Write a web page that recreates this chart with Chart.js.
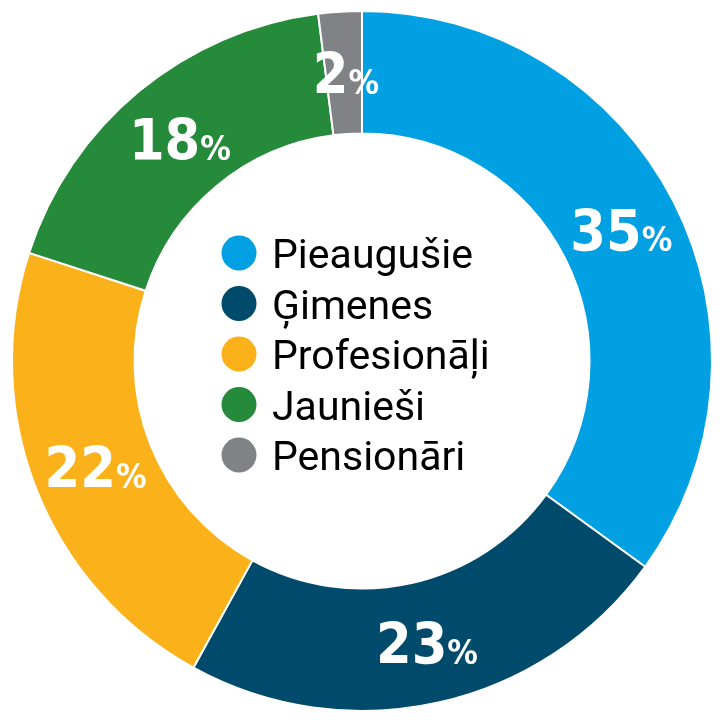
<!DOCTYPE html>
<html>
<head>
<meta charset="utf-8">
<script src="https://cdn.jsdelivr.net/npm/chart.js@4.4.1/dist/chart.umd.min.js"></script>
<style>
  html, body { margin: 0; padding: 0; background: #fff; }
  #wrap { width: 720px; height: 720px; }
</style>
</head>
<body>
<div id="wrap"><canvas id="grafiks" width="720" height="720"></canvas></div>
<script>
const kategorijas = ['Pieaugušie', 'Ģimenes', 'Profesionāļi', 'Jaunieši', 'Pensionāri'];
const vertibas = [35, 23, 22, 18, 2];
const krasas = ['#00a0e3', '#004b6b', '#fbb11a', '#258a3a', '#808285'];

// skaitļi segmentu vidū: lieli cipari + mazāka % zīme
const etiketes = {
    id: 'etiketes',
    afterDatasetsDraw(chart) {
        const ctx = chart.ctx;
        const meta = chart.getDatasetMeta(0);
        ctx.save();
        ctx.fillStyle = '#fff';
        ctx.textBaseline = 'alphabetic';
        meta.data.forEach((arc, i) => {
            const p = arc.getProps(['x', 'y', 'startAngle', 'endAngle', 'innerRadius', 'outerRadius']);
            const a = (p.startAngle + p.endAngle) / 2;
            const r = (p.innerRadius + p.outerRadius) / 2;
            const cx = p.x + Math.cos(a) * r;
            const cy = p.y + Math.sin(a) * r;
            const num = String(vertibas[i]);
            ctx.font = 'bold 57px "DejaVu Sans Condensed", "DejaVu Sans", sans-serif';
            const w1 = ctx.measureText(num).width;
            ctx.font = 'bold 34px "DejaVu Sans Condensed", "DejaVu Sans", sans-serif';
            const w2 = ctx.measureText('%').width;
            const x0 = cx - (w1 + w2) / 2 + 2;
            const base = cy + 21;
            ctx.font = 'bold 57px "DejaVu Sans Condensed", "DejaVu Sans", sans-serif';
            ctx.textAlign = 'left';
            ctx.fillText(num, x0, base);
            ctx.font = 'bold 34px "DejaVu Sans Condensed", "DejaVu Sans", sans-serif';
            ctx.fillText('%', x0 + w1, base);
        });
        ctx.restore();
    }
};

// leģenda apļa iekšpusē
const centraLegenda = {
    id: 'centraLegenda',
    afterDraw(chart) {
        const ctx = chart.ctx;
        ctx.save();
        ctx.font = '41px Roboto, "Noto Sans", sans-serif';
        ctx.textAlign = 'left';
        ctx.textBaseline = 'alphabetic';
        kategorijas.forEach((nos, i) => {
            const y = 253 + i * 50.5;
            ctx.beginPath();
            ctx.arc(239, y, 17.5, 0, Math.PI * 2);
            ctx.fillStyle = krasas[i];
            ctx.fill();
            ctx.fillStyle = '#000';
            ctx.fillText(nos, 272, y + 15);
        });
        ctx.restore();
    }
};

new Chart(document.getElementById('grafiks'), {
    type: 'doughnut',
    data: {
        labels: kategorijas,
        datasets: [{
            data: vertibas,
            backgroundColor: krasas,
            borderColor: '#fff',
            borderWidth: 2
        }]
    },
    options: {
        responsive: false,
        animation: false,
        cutout: '65%',
        layout: { padding: { left: 11, right: 7, top: 10, bottom: 8 } },
        plugins: {
            legend: { display: false },
            tooltip: { enabled: false }
        }
    },
    plugins: [etiketes, centraLegenda]
});
</script>
</body>
</html>
